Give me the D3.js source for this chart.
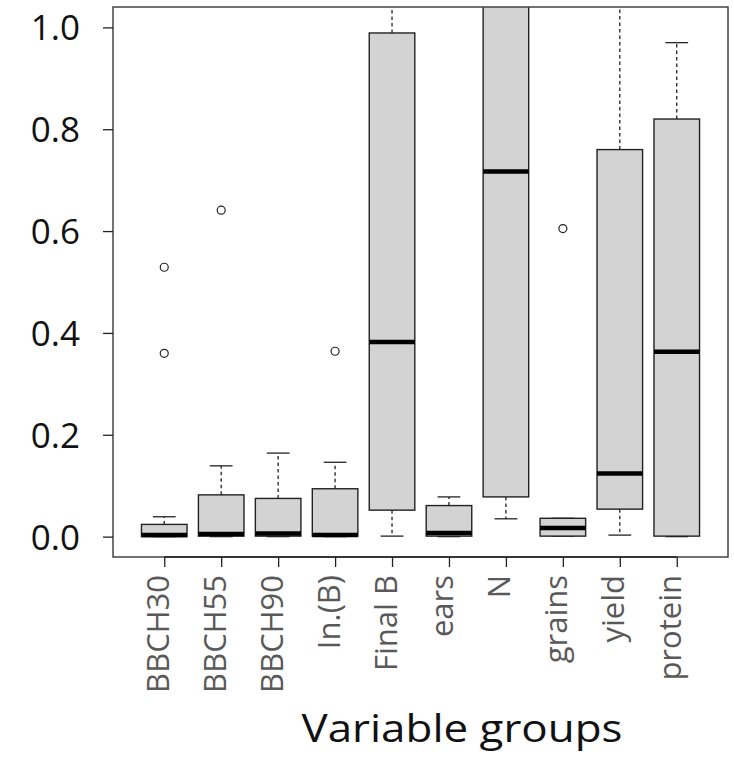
<!DOCTYPE html>
<html>
<head>
<meta charset="utf-8">
<script src="https://cdn.jsdelivr.net/npm/d3@7"></script>
<style>
  html, body { margin: 0; padding: 0; background: #fff; }
  svg { display: block; font-family: "Open Sans", sans-serif; }
</style>
</head>
<body>
<svg id="chart" width="734" height="770"></svg>
<script>
// ---- data ----
const categories = ["BBCH30", "BBCH55", "BBCH90", "In.(B)", "Final B", "ears", "N", "grains", "yield", "protein"];
const whiskerLow  = [0.000, 0.000, 0.000, 0.000, 0.001, 0.000, 0.035, 0.001, 0.003, 0.000];
const q1          = [0.000, 0.001, 0.001, 0.001, 0.052, 0.001, 0.078, 0.001, 0.054, 0.001];
const medians     = [0.003, 0.005, 0.006, 0.003, 0.382, 0.007, 0.717, 0.017, 0.124, 0.363];
const q3          = [0.024, 0.082, 0.075, 0.094, 0.989, 0.061, 1.300, 0.036, 0.760, 0.820];
const whiskerHigh = [0.039, 0.139, 0.164, 0.146, 1.200, 0.078, 1.500, 0.036, 1.200, 0.970];
const outliers    = [[0.529, 0.360], [0.641], [], [0.364], [], [], [], [0.605], [], []];
const yTicks = [0.0, 0.2, 0.4, 0.6, 0.8, 1.0];
const xLabel = "Variable groups";

// ---- layout ----
const svg = d3.select("#chart");
const L = 113, R = 728, T = 7, B = 557;
const x = d3.scaleLinear().domain([0.1, 10.9]).range([L, R]);
const y = d3.scaleLinear().domain([-0.04, 1.04]).range([B, T]);
const halfW = 0.4, stapleHalf = 0.2;

svg.append("defs").append("clipPath").attr("id", "plotclip")
  .append("rect").attr("x", L).attr("y", T).attr("width", R - L).attr("height", B - T);

const g = svg.append("g").attr("clip-path", "url(#plotclip)");

const data = categories.map((c, i) => ({
  c, pos: i + 1, lo: whiskerLow[i], q1: q1[i], med: medians[i], q3: q3[i], hi: whiskerHigh[i], out: outliers[i]
}));

const box = g.selectAll("g.box").data(data).enter().append("g").attr("class", "box");

// whiskers (dashed)
box.append("line")
  .attr("x1", d => x(d.pos)).attr("x2", d => x(d.pos))
  .attr("y1", d => y(d.q3)).attr("y2", d => y(d.hi))
  .attr("stroke", "#222").attr("stroke-width", 1.3).attr("stroke-dasharray", "3.5,3");
box.append("line")
  .attr("x1", d => x(d.pos)).attr("x2", d => x(d.pos))
  .attr("y1", d => y(d.q1)).attr("y2", d => y(d.lo))
  .attr("stroke", "#222").attr("stroke-width", 1.3).attr("stroke-dasharray", "3.5,3");
// staples
["hi", "lo"].forEach(k => {
  box.append("line")
    .attr("x1", d => x(d.pos - stapleHalf)).attr("x2", d => x(d.pos + stapleHalf))
    .attr("y1", d => y(d[k])).attr("y2", d => y(d[k]))
    .attr("stroke", "#222").attr("stroke-width", 1.3);
});
// boxes
box.append("rect")
  .attr("x", d => x(d.pos - halfW))
  .attr("width", d => x(d.pos + halfW) - x(d.pos - halfW))
  .attr("y", d => y(d.q3))
  .attr("height", d => y(d.q1) - y(d.q3))
  .attr("fill", "#d3d3d3").attr("stroke", "#222").attr("stroke-width", 1.4);
// medians
box.append("line")
  .attr("x1", d => x(d.pos - halfW)).attr("x2", d => x(d.pos + halfW))
  .attr("y1", d => y(d.med)).attr("y2", d => y(d.med))
  .attr("stroke", "#000").attr("stroke-width", 4.5);
// outliers
box.selectAll("circle").data(d => d.out.map(v => ({ pos: d.pos, v }))).enter().append("circle")
  .attr("cx", d => x(d.pos)).attr("cy", d => y(d.v)).attr("r", 4)
  .attr("fill", "none").attr("stroke", "#222").attr("stroke-width", 1.2);

// plot frame
svg.append("rect").attr("x", L).attr("y", T).attr("width", R - L).attr("height", B - T)
  .attr("fill", "none").attr("stroke", "#444").attr("stroke-width", 1.5);

// y axis
const yAxis = svg.append("g").attr("transform", `translate(${L},0)`)
  .call(d3.axisLeft(y).tickValues(yTicks).tickSize(10).tickPadding(23).tickFormat(d3.format(".1f")));
yAxis.select(".domain").remove();
yAxis.selectAll(".tick line").attr("stroke", "#222").attr("stroke-width", 1.3);
yAxis.selectAll(".tick text").attr("font-size", 35).attr("fill", "#111")
  .attr("font-family", "'Open Sans', sans-serif").attr("dy", "0.36em");

// x axis
const xAxis = svg.append("g").attr("transform", `translate(0,${B})`)
  .call(d3.axisBottom(x).tickValues(data.map(d => d.pos)).tickSize(10).tickFormat((d, i) => categories[i]));
xAxis.select(".domain").attr("d", `M${x(1)},0H${x(10)}`).attr("stroke", "#222").attr("stroke-width", 1.3);
xAxis.selectAll(".tick line").attr("stroke", "#222").attr("stroke-width", 1.3);
xAxis.selectAll(".tick text")
  .attr("font-size", 31).attr("fill", "#595959")
  .attr("font-family", "'Open Sans', sans-serif")
  .attr("text-anchor", "end")
  .attr("x", 0).attr("y", 0).attr("dy", null)
  .attr("transform", "translate(4,18) rotate(-90)");

// x title
svg.append("text").attr("x", 462).attr("y", 742).attr("text-anchor", "middle")
  .attr("font-size", 39).attr("fill", "#111")
  .attr("font-family", "'Open Sans', sans-serif")
  .attr("textLength", 321).attr("lengthAdjust", "spacingAndGlyphs")
  .text(xLabel);
</script>
</body>
</html>
